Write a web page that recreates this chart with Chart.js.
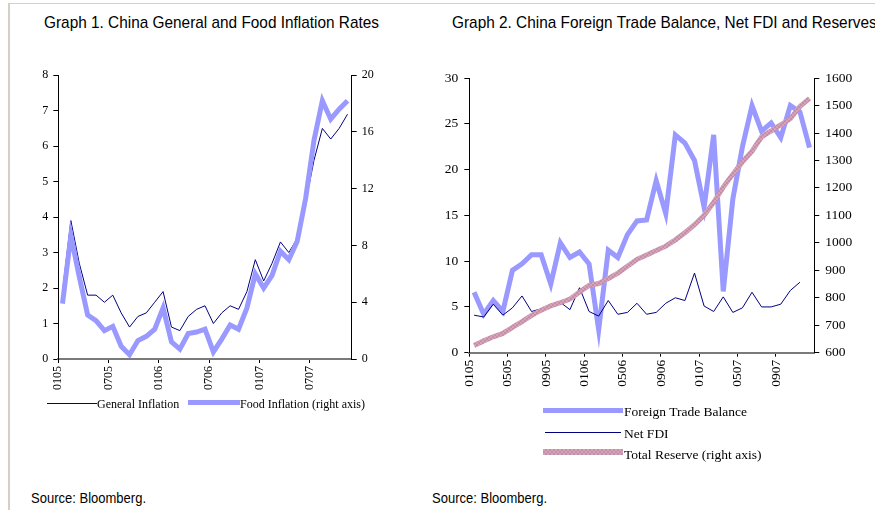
<!DOCTYPE html>
<html>
<head>
<meta charset="utf-8">
<script src="https://cdn.jsdelivr.net/npm/chart.js@4.4.1/dist/chart.umd.min.js"></script>
<style>
  body { margin: 0; background: #fff; }
  #page { position: relative; width: 875px; height: 510px; overflow: hidden; background: #fff; }
  .frameTop { position: absolute; left: 8px; top: 3px; width: 867px; height: 1px; background: #d4d0c8; }
  .frameLeft { position: absolute; left: 8px; top: 3px; width: 2px; height: 507px; background: #d4d0c8; }
  .title, .source { position: absolute; white-space: nowrap; font-family: 'Liberation Sans', Arial, sans-serif; color: #000; transform-origin: 0 50%; }
  .title { top: 13px; font-size: 17px; line-height: 20px; }
  .source { top: 489px; font-size: 15px; line-height: 18px; }
  .box { position: absolute; }
  .leg { position: absolute; white-space: nowrap; font-family: 'Liberation Serif', 'Times New Roman', serif; color: #000; }
  .swatch { position: absolute; }
</style>
</head>
<body>
<div id="page">
  <div class="frameTop"></div>
  <div class="frameLeft"></div>

  <div class="title" id="t1" style="left:44px">Graph 1. China General and Food Inflation Rates</div>
  <div class="title" id="t2" style="left:452px">Graph 2. China Foreign Trade Balance, Net FDI and Reserves</div>

  <div class="box" style="left:10px;top:63px;width:390px;height:337px"><canvas id="c1" width="390" height="337"></canvas></div>
  <div class="box" style="left:420px;top:64px;width:455px;height:336px"><canvas id="c2" width="455" height="336"></canvas></div>

  <!-- legend graph 1 -->
  <div class="swatch" style="left:47px;top:403px;width:50px;height:1px;background:#000080"></div>
  <div class="leg" style="left:97px;top:396px;font-size:12px;line-height:16px">General Inflation</div>
  <div class="swatch" style="left:188px;top:400px;width:52px;height:5px;background:#9999ff"></div>
  <div class="leg" style="left:240px;top:396px;font-size:12px;line-height:16px">Food Inflation (right axis)</div>

  <!-- legend graph 2 -->
  <div class="swatch" style="left:543px;top:408px;width:80px;height:5px;background:#9999ff"></div>
  <div class="leg" style="left:624px;top:403px;font-size:13.5px;line-height:17px">Foreign Trade Balance</div>
  <div class="swatch" style="left:545px;top:432px;width:76px;height:1px;background:#000080"></div>
  <div class="leg" style="left:624px;top:425px;font-size:13.5px;line-height:17px">Net FDI</div>
  <div class="swatch" style="left:543px;top:449px;width:80px;height:6px;background:repeating-conic-gradient(#c48fa7 0 25%, #d5a3b9 0 50%) 0 0/4px 4px"></div>
  <div class="leg" style="left:624px;top:446px;font-size:13.5px;line-height:17px">Total Reserve (right axis)</div>

  <div class="source" id="s1" style="left:31px">Source: Bloomberg.</div>
  <div class="source" id="s2" style="left:432px">Source: Bloomberg.</div>
</div>

<script>
// month labels (mmyy)
const months = ['0105','0205','0305','0405','0505','0605','0705','0805','0905','1005','1105','1205',
                '0106','0206','0306','0406','0506','0606','0706','0806','0906','1006','1106','1206',
                '0107','0207','0307','0407','0507','0607','0707','0807','0907','1007','1107','1207'];

// Graph 1: inflation, % yoy (Jan 05 - Nov 07)
const generalInflation = [1.9, 3.9, 2.7, 1.8, 1.8, 1.6, 1.8, 1.3, 0.9, 1.2, 1.3, 1.6,
                          1.9, 0.9, 0.8, 1.2, 1.4, 1.5, 1.0, 1.3, 1.5, 1.4, 1.9, 2.8,
                          2.2, 2.7, 3.3, 3.0, 3.4, 4.4, 5.6, 6.5, 6.2, 6.5, 6.9];
const foodInflation = [3.9, 8.7, 5.8, 3.1, 2.7, 2.0, 2.3, 0.9, 0.3, 1.3, 1.6, 2.1,
                       3.6, 1.2, 0.7, 1.8, 1.9, 2.1, 0.5, 1.4, 2.4, 2.1, 3.6, 6.0,
                       5.0, 5.9, 7.6, 7.0, 8.3, 11.3, 15.4, 18.2, 16.9, 17.6, 18.2];

// Graph 2: USD bn (Jan 05 - Dec 07)
const tradeBalance = [6.6, 4.2, 5.7, 4.5, 9.0, 9.7, 10.7, 10.7, 7.5, 12.0, 10.4, 11.0,
                      9.7, 2.5, 11.2, 10.4, 12.9, 14.4, 14.5, 18.8, 15.2, 23.8, 22.9, 21.0,
                      15.9, 23.8, 6.7, 16.8, 22.5, 27.0, 24.2, 25.1, 23.5, 27.0, 26.3, 22.4];
const netFDI = [4.1, 3.9, 5.3, 4.1, 4.9, 6.2, 4.5, 4.8, 5.1, 5.5, 4.7, 7.1,
                4.5, 4.0, 5.7, 4.2, 4.4, 5.4, 4.2, 4.4, 5.4, 6.0, 5.7, 8.7,
                5.1, 4.5, 6.1, 4.4, 4.9, 6.6, 5.0, 5.0, 5.3, 6.8, 7.7, null];
const totalReserve = [626, 643, 658, 670, 692, 713, 736, 755, 771, 782, 795, 821,
                      845, 852, 870, 890, 915, 940, 956, 972, 988, 1011, 1037, 1066,
                      1100, 1148, 1203, 1250, 1295, 1334, 1386, 1408, 1430, 1452, 1497, 1526];

const serif = 'Liberation Serif';

function xy(arr) {
  return arr.map((v, i) => ({ x: i, y: v }));
}

function reservePattern() {
  const c = document.createElement('canvas');
  c.width = 4; c.height = 4;
  const g = c.getContext('2d');
  g.fillStyle = '#d5a3b9';
  g.fillRect(0, 0, 4, 4);
  g.fillStyle = '#c48fa7';
  g.fillRect(0, 0, 2, 2);
  g.fillRect(2, 2, 2, 2);
  return g.createPattern(c, 'repeat');
}

// x axis: month boundaries every `step` months, label = month starting there
function monthAxis(count, step, size, height) {
  return {
    type: 'linear',
    min: -0.5,
    max: count - 0.5,
    afterBuildTicks: s => {
      const t = [];
      for (let v = -0.5; v < count - 0.5; v += step) t.push({ value: v });
      s.ticks = t;
    },
    ticks: {
      autoSkip: false, minRotation: 90, maxRotation: 90, padding: 3,
      color: '#000', font: { family: serif, size: size },
      callback: v => months[Math.round(v + 0.5)]
    },
    grid: { drawOnChartArea: false, tickLength: 4, color: '#000' },
    border: { color: '#7a7a7a', width: 2 },
    afterFit: s => { s.height = height; }
  };
}

function valueAxis(pos, min, max, step, size, width, pad) {
  return {
    position: pos, min: min, max: max,
    ticks: { stepSize: step, padding: pad, color: '#000', font: { family: serif, size: size },
             callback: v => String(v) },
    grid: { drawOnChartArea: false, tickLength: 5, color: '#000' },
    border: { color: '#000', width: 1 },
    afterFit: s => { s.width = width; }
  };
}

const common = {
  responsive: false,
  animation: false,
  devicePixelRatio: 1,
  plugins: { legend: { display: false }, tooltip: { enabled: false } },
  elements: { point: { radius: 0 }, line: { tension: 0 } }
};

new Chart(document.getElementById('c1'), {
  type: 'line',
  data: {
    datasets: [
      { label: 'General Inflation', data: xy(generalInflation), yAxisID: 'y',
        borderColor: '#000080', borderWidth: 1, order: 2 },
      { label: 'Food Inflation (right axis)', data: xy(foodInflation), yAxisID: 'y1',
        borderColor: '#9999ff', borderWidth: 5, order: 1 }
    ]
  },
  options: Object.assign({}, common, {
    layout: { padding: { top: 10.7, left: 0, right: 0, bottom: 0 } },
    scales: {
      x: monthAxis(generalInflation.length, 6, 12, 41),
      y: valueAxis('left', 0, 8, 1, 12, 48.3, 5),
      y1: valueAxis('right', 0, 20, 4, 12, 48.3, 5)
    }
  })
});

new Chart(document.getElementById('c2'), {
  type: 'line',
  data: {
    datasets: [
      { label: 'Foreign Trade Balance', data: xy(tradeBalance), yAxisID: 'y',
        borderColor: '#9999ff', borderWidth: 5, order: 3 },
      { label: 'Net FDI', data: xy(netFDI), yAxisID: 'y',
        borderColor: '#000080', borderWidth: 1, order: 2 },
      { label: 'Total Reserve (right axis)', data: xy(totalReserve), yAxisID: 'y1',
        borderColor: reservePattern(), borderWidth: 5, order: 1 }
    ]
  },
  options: Object.assign({}, common, {
    layout: { padding: { top: 11, left: 0, right: 0, bottom: 0 } },
    scales: {
      x: monthAxis(tradeBalance.length, 4, 13.5, 47.3),
      y: valueAxis('left', 0, 30, 5, 13.5, 49.3, 6),
      y1: valueAxis('right', 600, 1600, 100, 13.5, 60.7, 6)
    }
  })
});

// squeeze the sans captions to the narrow face of the original
function fit(el, w) {
  const k = w / el.getBoundingClientRect().width;
  el.style.transform = 'scaleX(' + k + ')';
  return k;
}
const k = fit(document.getElementById('t1'), 335);
document.getElementById('t2').style.transform = 'scaleX(' + k + ')';
fit(document.getElementById('s1'), 115);
fit(document.getElementById('s2'), 115);
</script>
</body>
</html>
